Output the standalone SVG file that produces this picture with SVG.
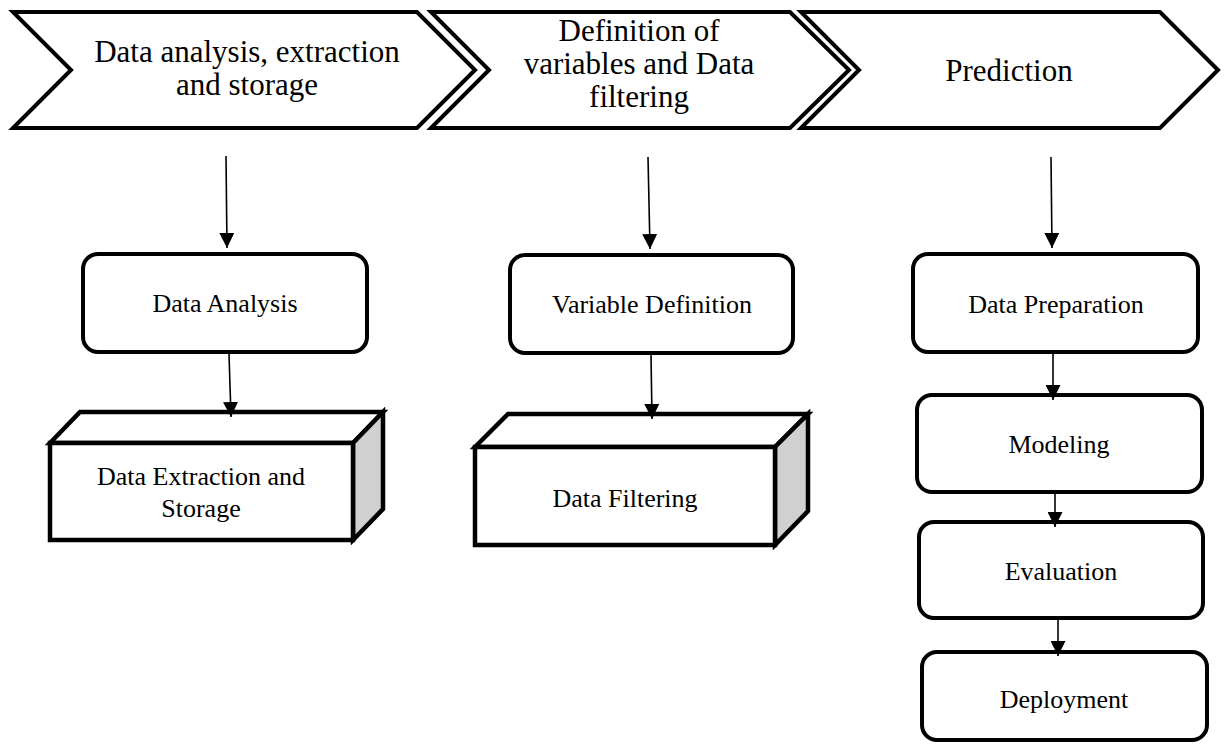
<svg xmlns="http://www.w3.org/2000/svg" width="1224" height="744" viewBox="0 0 1224 744">
<defs>
<marker id="ah" viewBox="0 0 10 10" refX="10" refY="5" markerWidth="15" markerHeight="15" markerUnits="userSpaceOnUse" orient="auto">
<path d="M0,0 L10,5 L0,10 Z" fill="#000"/>
</marker>
<style>
.chev{fill:#fff;stroke:#000;stroke-width:4;stroke-linejoin:miter}
.rbox{fill:#fff;stroke:#000;stroke-width:4}
.cube{fill:#fff;stroke:#000;stroke-width:4.5;stroke-linejoin:miter}
.side{fill:#d0d0d0;stroke:#000;stroke-width:4.5;stroke-linejoin:miter}
.t1{font-family:'Liberation Serif','Times New Roman',serif;font-size:31px;fill:#000;text-anchor:middle}
.t2{font-family:'Liberation Serif','Times New Roman',serif;font-size:26px;fill:#000;text-anchor:middle}
.conn{stroke:#000;stroke-width:1.6;fill:none}
</style>
</defs>
<rect width="1224" height="744" fill="#fff"/>

<g id="chevron1">
<path class="chev" d="M13,12 L417,12 L475,70 L417,128 L13,128 L71,70 Z"/>
<text class="t1" x="247" y="62">Data analysis, extraction</text>
<text class="t1" x="247" y="95">and storage</text>
</g>
<g id="chevron2">
<path class="chev" d="M431,12 L790,12 L849,70 L790,128 L431,128 L489,70 Z"/>
<text class="t1" x="639" y="41">Definition of</text>
<text class="t1" x="639" y="74">variables and Data</text>
<text class="t1" x="639" y="107">filtering</text>
</g>
<g id="chevron3">
<path class="chev" d="M801,12 L1160,12 L1218,70 L1160,128 L801,128 L859,70 Z"/>
<text class="t1" x="1009" y="81">Prediction</text>
</g>

<g id="data-analysis">
<rect class="rbox" x="83" y="254" width="284" height="98" rx="15"/>
<text class="t2" x="225" y="312">Data Analysis</text>
</g>
<g id="data-extraction">
<path class="cube" d="M50,443 L80,412 L383,412 L353,443 Z"/>
<path class="side" d="M353,443 L383,412 L383,509 L353,540 Z"/>
<rect class="cube" x="50" y="443" width="303" height="97"/>
<text class="t2" x="201" y="485">Data Extraction and</text>
<text class="t2" x="201" y="517">Storage</text>
</g>

<g id="variable-definition">
<rect class="rbox" x="510" y="255" width="283" height="98" rx="15"/>
<text class="t2" x="652" y="313">Variable Definition</text>
</g>
<g id="data-filtering">
<path class="cube" d="M475,447 L508,414 L808,414 L775,447 Z"/>
<path class="side" d="M775,447 L808,414 L808,511 L775,545 Z"/>
<rect class="cube" x="475" y="447" width="300" height="98"/>
<text class="t2" x="625" y="507">Data Filtering</text>
</g>

<g id="data-preparation">
<rect class="rbox" x="913" y="254" width="285" height="98" rx="15"/>
<text class="t2" x="1056" y="313">Data Preparation</text>
</g>
<g id="modeling">
<rect class="rbox" x="917" y="395" width="285" height="97" rx="15"/>
<text class="t2" x="1059" y="453">Modeling</text>
</g>
<g id="evaluation">
<rect class="rbox" x="919" y="522" width="284" height="96" rx="15"/>
<text class="t2" x="1061" y="580">Evaluation</text>
</g>
<g id="deployment">
<rect class="rbox" x="922" y="652" width="285" height="88" rx="15"/>
<text class="t2" x="1064" y="708">Deployment</text>
</g>

<g id="connectors">
<line class="conn" x1="226" y1="156" x2="227" y2="248" marker-end="url(#ah)"/>
<line class="conn" x1="648" y1="157" x2="650" y2="249" marker-end="url(#ah)"/>
<line class="conn" x1="1051" y1="157" x2="1052" y2="248" marker-end="url(#ah)"/>
<line class="conn" x1="229" y1="354" x2="231" y2="417" marker-end="url(#ah)"/>
<line class="conn" x1="651" y1="355" x2="652" y2="419" marker-end="url(#ah)"/>
<line class="conn" x1="1053" y1="353" x2="1053" y2="400" marker-end="url(#ah)"/>
<line class="conn" x1="1055" y1="494" x2="1055" y2="527" marker-end="url(#ah)"/>
<line class="conn" x1="1058" y1="620" x2="1058" y2="656" marker-end="url(#ah)"/>
</g>
</svg>
